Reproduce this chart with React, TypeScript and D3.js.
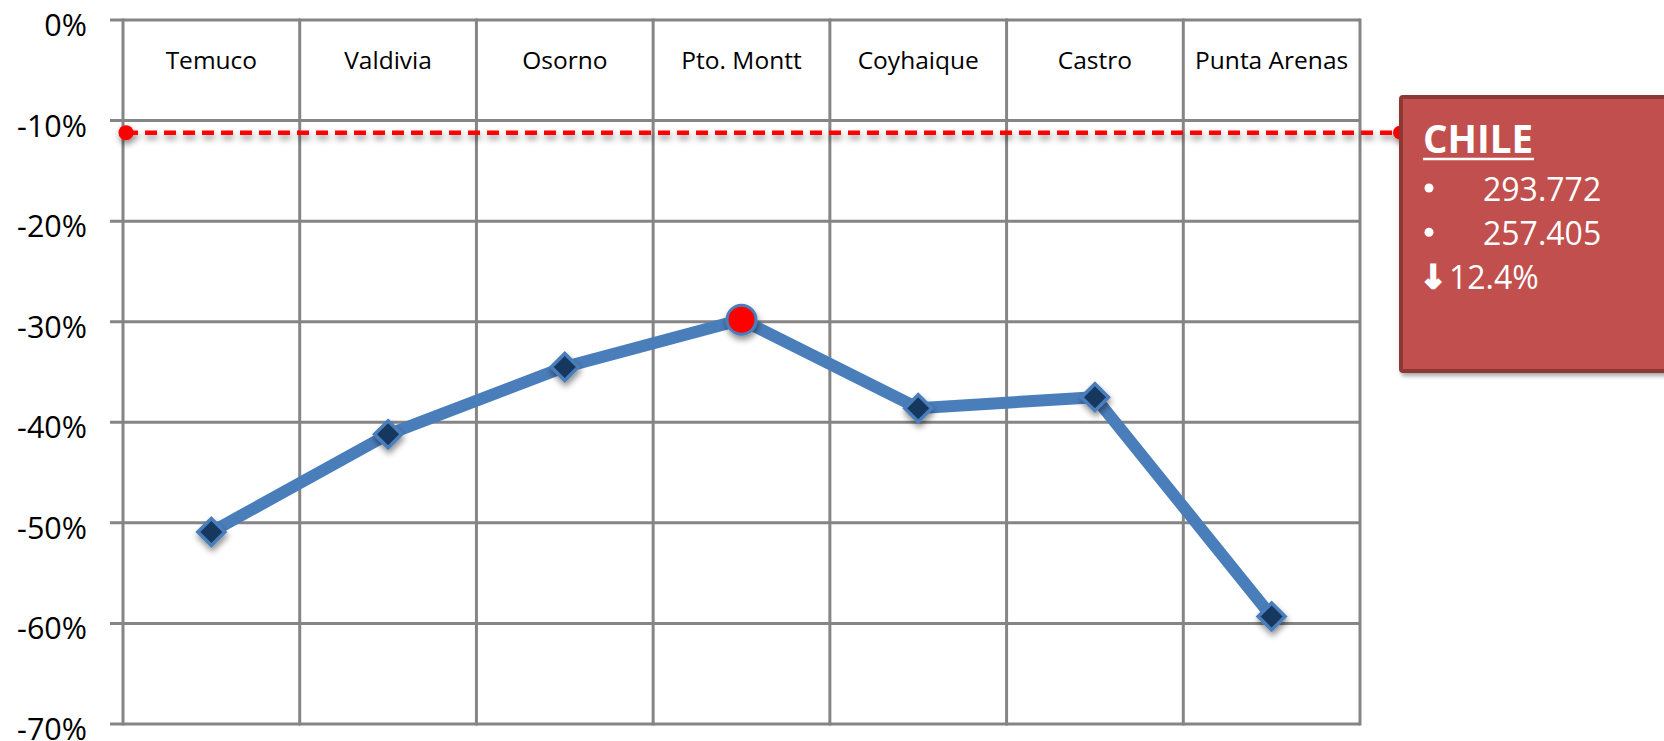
import React from "react";
import * as d3 from "d3";

const categories: string[] = ["Temuco", "Valdivia", "Osorno", "Pto. Montt", "Coyhaique", "Castro", "Punta Arenas"];
const values: number[] = [-50.9, -41.2, -34.5, -29.8, -38.6, -37.5, -59.3];
const highlightCategory = "Pto. Montt";
const yTicks: number[] = [0, -10, -20, -30, -40, -50, -60, -70];
const referenceValue = -11.2;
const boxTitle = "CHILE";
const boxValues: string[] = ["293.772", "257.405"];
const boxArrow = "↓";
const boxChange = "12.4%";

const W = 1664;
const H = 741;
const X0 = 123;
const X1 = 1360;
const Y0 = 20;
const Y1 = 724;
const FONT = "'Open Sans', 'DejaVu Sans', sans-serif";
const GRID = "#858585";
const LINE = "#4A7EBB";

export default function App() {
  const x = d3.scaleBand<string>().domain(categories).range([X0, X1]).paddingInner(0).paddingOuter(0);
  const y = d3.scaleLinear().domain([-70, 0]).range([Y1, Y0]);
  const cx = (c: string) => (x(c) as number) + x.bandwidth() / 2;
  const pts: [number, number][] = categories.map((c, i) => [cx(c), y(values[i])]);
  const linePath = d3.line()(pts) as string;
  const diamond = (s: number) => `M0,${-s}L${s},0L0,${s}L${-s},0Z`;
  const refY = y(referenceValue);

  const boxX = 1401;
  const boxY = 97;
  const boxH = 274;

  return (
    <svg width={W} height={H} style={{ position: "absolute", left: 0, top: 0, background: "#fff" }} fontFamily={FONT}>
      <defs>
        <filter id="sh" x="-100%" y="-100%" width="300%" height="300%">
          <feGaussianBlur in="SourceAlpha" stdDeviation="3" />
          <feOffset dx="1" dy="4" result="b" />
          <feComponentTransfer>
            <feFuncA type="linear" slope="0.45" />
          </feComponentTransfer>
          <feMerge>
            <feMergeNode />
            <feMergeNode in="SourceGraphic" />
          </feMerge>
        </filter>
        <filter id="boxsh" x="-10%" y="-10%" width="130%" height="130%">
          <feGaussianBlur in="SourceAlpha" stdDeviation="2" />
          <feOffset dx="2" dy="3" />
          <feComponentTransfer>
            <feFuncA type="linear" slope="0.35" />
          </feComponentTransfer>
          <feMerge>
            <feMergeNode />
            <feMergeNode in="SourceGraphic" />
          </feMerge>
        </filter>
      </defs>

      {/* horizontal gridlines + ticks */}
      {yTicks.map((t) => (
        <line key={"h" + t} x1={110} x2={X1} y1={y(t)} y2={y(t)} stroke={GRID} strokeWidth={3} />
      ))}
      {/* vertical gridlines */}
      {categories.map((c) => (
        <line key={"v" + c} x1={(x(c) as number) + x.bandwidth()} x2={(x(c) as number) + x.bandwidth()} y1={Y0 - 1.5} y2={Y1 + 1.5} stroke={GRID} strokeWidth={3} />
      ))}
      <line x1={X0} x2={X0} y1={Y0 - 1.5} y2={Y1 + 1.5} stroke={GRID} strokeWidth={3} />

      {/* y labels */}
      {yTicks.map((t) => (
        <text key={"yl" + t} x={87} y={y(t) + 4} textAnchor="end" dominantBaseline="central" fontSize={30.5} fill="#000">
          {`${t}%`}
        </text>
      ))}

      {/* category labels */}
      {categories.map((c) => (
        <text key={"cl" + c} x={cx(c)} y={59} textAnchor="middle" dominantBaseline="central" fontSize={24.5} fill="#000">
          {c}
        </text>
      ))}

      {/* reference dashed line */}
      <g filter="url(#sh)">
        <line x1={X0 + 3} x2={boxX - 2} y1={refY} y2={refY} stroke="#FF0000" strokeWidth={4.5} strokeDasharray="12 7" />
        <circle cx={X0 + 3} cy={refY} r={7.5} fill="#FF0000" />
        <circle cx={boxX - 1} cy={refY} r={7} fill="#FF0000" />
      </g>

      {/* series line */}
      <path d={linePath} fill="none" stroke={LINE} strokeWidth={12} strokeLinejoin="miter" />
      {pts.map((p, i) =>
        categories[i] === highlightCategory ? (
          <circle key={"m" + i} cx={p[0]} cy={p[1]} r={14.5} fill="#FF0000" stroke={LINE} strokeWidth={3} filter="url(#sh)" />
        ) : (
          <path key={"m" + i} d={diamond(13.5)} transform={`translate(${p[0]},${p[1]})`} fill="#17375E" stroke={LINE} strokeWidth={3.5} filter="url(#sh)" />
        )
      )}

      {/* annotation box */}
      <g filter="url(#boxsh)">
        <rect x={boxX} y={boxY} width={400} height={boxH} fill="#C0504D" stroke="#8C3836" strokeWidth={4} rx={2} />
      </g>
      <text x={1423} y={153} fontSize={38.5} fontWeight={700} fill="#fff">
        {boxTitle}
      </text>
      <line x1={1423} x2={1534} y1={159} y2={159} stroke="#fff" strokeWidth={2.5} />
      {boxValues.map((v, i) => (
        <g key={"bv" + i}>
          <circle cx={1429} cy={188 + i * 44.3} r={4.5} fill="#fff" />
          <text x={1483} y={200.7 + i * 44.3} fontSize={32} fill="#fff">
            {v}
          </text>
        </g>
      ))}
      <text x={1420} y={288} fontSize={32} fontWeight={700} fill="#fff" stroke="#fff" strokeWidth={2.2} fontFamily="'DejaVu Sans', sans-serif">
        {boxArrow}
      </text>
      <text x={1449} y={289.3} fontSize={32} fill="#fff">
        {boxChange}
      </text>
    </svg>
  );
}
